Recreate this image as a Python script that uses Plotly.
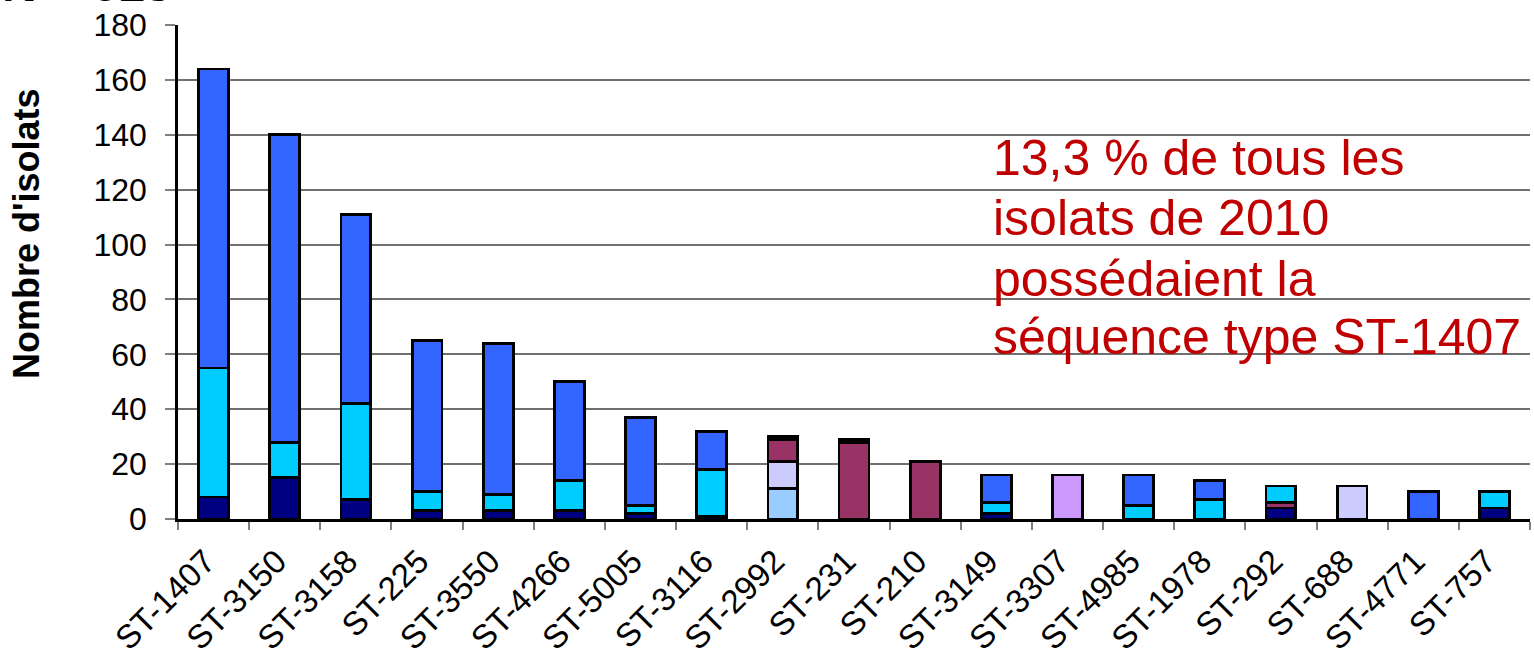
import plotly.graph_objects as go

categories = ["ST-1407", "ST-3150", "ST-3158", "ST-225", "ST-3550", "ST-4266", "ST-5005",
              "ST-3116", "ST-2992", "ST-231", "ST-210", "ST-3149", "ST-3307", "ST-4985",
              "ST-1978", "ST-292", "ST-688", "ST-4771", "ST-757"]

# stacked segments, bottom to top
navy     = [8, 15, 7, 3, 3, 3, 2, 1, 0, 0, 0, 2, 0, 0, 0, 4, 0, 0, 4]
lightblu = [0, 0, 0, 0, 0, 0, 0, 0, 11, 0, 0, 0, 0, 0, 0, 0, 0, 0, 0]
lavender = [0, 0, 0, 0, 0, 0, 0, 0, 10, 0, 0, 0, 0, 0, 0, 0, 12, 0, 0]
maroon   = [0, 0, 0, 0, 0, 0, 0, 0, 8, 28, 21, 0, 0, 0, 0, 2, 0, 0, 0]
cyan     = [47, 13, 35, 7, 6, 11, 3, 17, 0, 0, 0, 4, 0, 5, 7, 6, 0, 0, 6]
blue     = [109, 112, 69, 55, 55, 36, 32, 14, 0, 0, 0, 10, 0, 11, 7, 0, 0, 10, 0]
violet   = [0, 0, 0, 0, 0, 0, 0, 0, 0, 0, 0, 0, 16, 0, 0, 0, 0, 0, 0]
black    = [0, 0, 0, 0, 0, 0, 0, 0, 1, 1, 0, 0, 0, 0, 0, 0, 0, 0, 0]

series = [
    ("Série 1", navy, "#000080"),
    ("Série 2", lightblu, "#99CCFF"),
    ("Série 3", lavender, "#CCCCFF"),
    ("Série 4", maroon, "#993366"),
    ("Série 5", cyan, "#00CCFF"),
    ("Série 6", blue, "#3366FF"),
    ("Série 7", violet, "#CC99FF"),
    ("Série 8", black, "#000000"),
]

yticks = list(range(0, 181, 20))

annot_lines = ["13,3 % de tous les", "isolats de 2010", "possédaient la",
               "séquence type ST-1407"]

FONT = "Arial, Liberation Sans, sans-serif"

fig = go.Figure()
for name, vals, col in series:
    fig.add_trace(go.Bar(
        x=categories, y=vals, name=name,
        marker=dict(color=col, line=dict(color="#000000", width=2.8)),
        showlegend=False,
    ))

L, R, T, B = 178, 4, 25, 133
W, H = 1534, 652
ph = H - T - B
pw = W - L - R

fig.update_layout(
    barmode="stack",
    bargap=0.58,
    width=W, height=H,
    margin=dict(l=L, r=R, t=T, b=B, pad=0, autoexpand=False),
    plot_bgcolor="white", paper_bgcolor="white",
    font=dict(family=FONT, color="black"),
    xaxis=dict(
        type="category",
        automargin=False,
        tickson="boundaries",
        ticks="outside", ticklen=8, tickcolor="#808080", tickwidth=1.5,
        tickangle=-45,
        tickfont=dict(size=33, family=FONT, color="black"),
        ticklabelshift=-8,
        ticklabelstandoff=7,
        showline=True, linecolor="black", linewidth=2.5,
        showgrid=False,
    ),
    yaxis=dict(
        range=[0, 180],
        automargin=False,
        tickvals=yticks,
        ticks="outside", ticklen=10, tickcolor="#808080", tickwidth=1.5,
        tickfont=dict(size=32, family=FONT, color="black"),
        ticklabelstandoff=12,
        showline=True, linecolor="black", linewidth=2.5,
        showgrid=True, gridcolor="#707070", gridwidth=1.5,
        zeroline=False,
    ),
)

def ypaper(px):
    return 1 - (px - T) / ph

def xpaper(px):
    return (px - L) / pw

# y-axis title placed as rotated text
fig.add_annotation(
    text="<b>Nombre d'isolats</b>", xref="paper", yref="paper",
    x=xpaper(26), y=ypaper(234), xanchor="center", yanchor="middle",
    textangle=-90, showarrow=False,
    font=dict(size=36, family=FONT, color="black"),
)

mids = [158, 218, 279, 337]
for txt, m in zip(annot_lines, mids):
    fig.add_annotation(
        text=txt, xref="paper", yref="paper",
        x=xpaper(991), y=ypaper(m), xanchor="left", yanchor="middle",
        showarrow=False, font=dict(size=50, family=FONT, color="#C00000"),
    )

fig.add_annotation(
    text="<b>N = 618</b>", xref="paper", yref="paper",
    x=xpaper(0), y=ypaper(-16), xanchor="left", yanchor="middle",
    showarrow=False, font=dict(size=48, family=FONT, color="black"),
)

fig.write_html(
    "out.html",
    config={"displayModeBar": False},
    post_script="document.body.style.margin='0';document.body.style.overflow='hidden';",
)
